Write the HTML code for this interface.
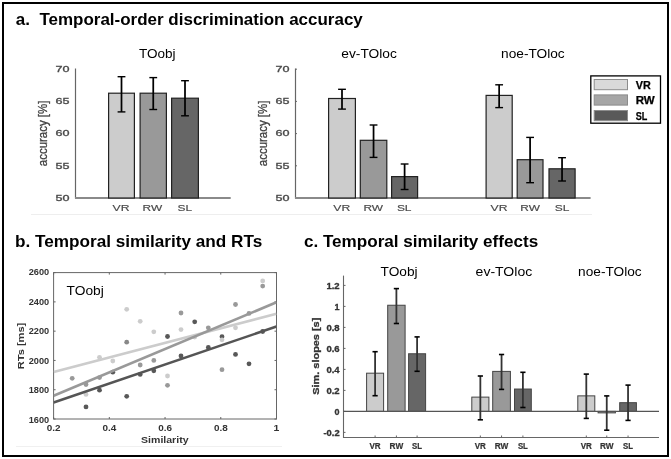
<!DOCTYPE html>
<html><head><meta charset="utf-8"><style>
html,body{margin:0;padding:0;background:#fff;}
svg{display:block;will-change:transform;}
text{font-family:"Liberation Sans", sans-serif;}
</style></head><body>
<svg width="671" height="459" viewBox="0 0 671 459">
<rect x="0" y="0" width="671" height="459" fill="#fff"/>
<rect x="3" y="3" width="665" height="453" fill="none" stroke="#000" stroke-width="2"/>
<text x="15.8" y="25" font-size="16.5" font-weight="bold" fill="#000" text-anchor="start" textLength="347" lengthAdjust="spacingAndGlyphs">a.&#160; Temporal-order discrimination accuracy</text>
<text x="15" y="247" font-size="16.5" font-weight="bold" fill="#000" text-anchor="start" textLength="247.2" lengthAdjust="spacingAndGlyphs">b. Temporal similarity and RTs</text>
<text x="303.9" y="247" font-size="16.5" font-weight="bold" fill="#000" text-anchor="start" textLength="234.3" lengthAdjust="spacingAndGlyphs">c. Temporal similarity effects</text>
<line x1="31" y1="214.5" x2="592" y2="214.5" stroke="#eeeeee" stroke-width="1"/>
<line x1="16" y1="446.5" x2="282" y2="446.5" stroke="#f0f0f0" stroke-width="1"/>
<line x1="75.5" y1="68.5" x2="75.5" y2="198.5" stroke="#666666" stroke-width="1.2"/>
<text x="69.4" y="200.8" font-size="9.3" font-weight="normal" fill="#4a4a4a" text-anchor="end" textLength="14.0" lengthAdjust="spacingAndGlyphs" stroke="#4a4a4a" stroke-width="0.35">50</text>
<text x="69.4" y="168.60000000000002" font-size="9.3" font-weight="normal" fill="#4a4a4a" text-anchor="end" textLength="14.0" lengthAdjust="spacingAndGlyphs" stroke="#4a4a4a" stroke-width="0.35">55</text>
<text x="69.4" y="136.4" font-size="9.3" font-weight="normal" fill="#4a4a4a" text-anchor="end" textLength="14.0" lengthAdjust="spacingAndGlyphs" stroke="#4a4a4a" stroke-width="0.35">60</text>
<text x="69.4" y="104.19999999999999" font-size="9.3" font-weight="normal" fill="#4a4a4a" text-anchor="end" textLength="14.0" lengthAdjust="spacingAndGlyphs" stroke="#4a4a4a" stroke-width="0.35">65</text>
<text x="69.4" y="71.99999999999999" font-size="9.3" font-weight="normal" fill="#4a4a4a" text-anchor="end" textLength="14.0" lengthAdjust="spacingAndGlyphs" stroke="#4a4a4a" stroke-width="0.35">70</text>
<line x1="75" y1="198" x2="230.7" y2="198" stroke="#8a8a8a" stroke-width="1.8"/>
<line x1="295.5" y1="68.5" x2="295.5" y2="198.5" stroke="#666666" stroke-width="1.2"/>
<text x="289.4" y="200.8" font-size="9.3" font-weight="normal" fill="#4a4a4a" text-anchor="end" textLength="14.0" lengthAdjust="spacingAndGlyphs" stroke="#4a4a4a" stroke-width="0.35">50</text>
<line x1="295.5" y1="198.0" x2="297.0" y2="198.0" stroke="#666666" stroke-width="1"/>
<text x="289.4" y="168.60000000000002" font-size="9.3" font-weight="normal" fill="#4a4a4a" text-anchor="end" textLength="14.0" lengthAdjust="spacingAndGlyphs" stroke="#4a4a4a" stroke-width="0.35">55</text>
<line x1="295.5" y1="165.8" x2="297.0" y2="165.8" stroke="#666666" stroke-width="1"/>
<text x="289.4" y="136.4" font-size="9.3" font-weight="normal" fill="#4a4a4a" text-anchor="end" textLength="14.0" lengthAdjust="spacingAndGlyphs" stroke="#4a4a4a" stroke-width="0.35">60</text>
<line x1="295.5" y1="133.6" x2="297.0" y2="133.6" stroke="#666666" stroke-width="1"/>
<text x="289.4" y="104.19999999999999" font-size="9.3" font-weight="normal" fill="#4a4a4a" text-anchor="end" textLength="14.0" lengthAdjust="spacingAndGlyphs" stroke="#4a4a4a" stroke-width="0.35">65</text>
<line x1="295.5" y1="101.39999999999999" x2="297.0" y2="101.39999999999999" stroke="#666666" stroke-width="1"/>
<text x="289.4" y="71.99999999999999" font-size="9.3" font-weight="normal" fill="#4a4a4a" text-anchor="end" textLength="14.0" lengthAdjust="spacingAndGlyphs" stroke="#4a4a4a" stroke-width="0.35">70</text>
<line x1="295.5" y1="69.19999999999999" x2="297.0" y2="69.19999999999999" stroke="#666666" stroke-width="1"/>
<line x1="295" y1="198" x2="590.6" y2="198" stroke="#8a8a8a" stroke-width="1.8"/>
<text transform="translate(47,133.4) rotate(-90)" x="0" y="0" font-size="13.6" font-weight="normal" fill="#404040" text-anchor="middle" textLength="65.5" lengthAdjust="spacingAndGlyphs" stroke="#404040" stroke-width="0.3">accuracy [%]</text>
<text transform="translate(267,133.4) rotate(-90)" x="0" y="0" font-size="13.6" font-weight="normal" fill="#404040" text-anchor="middle" textLength="65.5" lengthAdjust="spacingAndGlyphs" stroke="#404040" stroke-width="0.3">accuracy [%]</text>
<rect x="108.6" y="93.2" width="25.8" height="104.8" fill="#cccccc" stroke="#222" stroke-width="1.2"/>
<rect x="140.1" y="93.2" width="26.3" height="104.8" fill="#999999" stroke="#222" stroke-width="1.2"/>
<rect x="171.6" y="98.2" width="26.8" height="99.8" fill="#666666" stroke="#222" stroke-width="1.2"/>
<line x1="121.5" y1="76.7" x2="121.5" y2="111.9" stroke="#000" stroke-width="1.75"/>
<line x1="117.6" y1="76.7" x2="125.4" y2="76.7" stroke="#000" stroke-width="1.4"/>
<line x1="117.6" y1="111.9" x2="125.4" y2="111.9" stroke="#000" stroke-width="1.4"/>
<line x1="153.25" y1="77.60000000000001" x2="153.25" y2="109.5" stroke="#000" stroke-width="1.75"/>
<line x1="149.35" y1="77.60000000000001" x2="157.15" y2="77.60000000000001" stroke="#000" stroke-width="1.4"/>
<line x1="149.35" y1="109.5" x2="157.15" y2="109.5" stroke="#000" stroke-width="1.4"/>
<line x1="185.0" y1="80.7" x2="185.0" y2="115.80000000000001" stroke="#000" stroke-width="1.75"/>
<line x1="181.1" y1="80.7" x2="188.9" y2="80.7" stroke="#000" stroke-width="1.4"/>
<line x1="181.1" y1="115.80000000000001" x2="188.9" y2="115.80000000000001" stroke="#000" stroke-width="1.4"/>
<rect x="328.6" y="98.5" width="26.8" height="99.5" fill="#cccccc" stroke="#222" stroke-width="1.2"/>
<rect x="360.3" y="140.3" width="26.49999999999999" height="57.69999999999999" fill="#999999" stroke="#222" stroke-width="1.2"/>
<rect x="391.6" y="176.6" width="25.99999999999999" height="21.400000000000006" fill="#666666" stroke="#222" stroke-width="1.2"/>
<line x1="342.0" y1="89.30000000000001" x2="342.0" y2="109.10000000000001" stroke="#000" stroke-width="1.75"/>
<line x1="338.1" y1="89.30000000000001" x2="345.9" y2="89.30000000000001" stroke="#000" stroke-width="1.4"/>
<line x1="338.1" y1="109.10000000000001" x2="345.9" y2="109.10000000000001" stroke="#000" stroke-width="1.4"/>
<line x1="373.54999999999995" y1="125.0" x2="373.54999999999995" y2="157.4" stroke="#000" stroke-width="1.75"/>
<line x1="369.65" y1="125.0" x2="377.44999999999993" y2="125.0" stroke="#000" stroke-width="1.4"/>
<line x1="369.65" y1="157.4" x2="377.44999999999993" y2="157.4" stroke="#000" stroke-width="1.4"/>
<line x1="404.6" y1="164.0" x2="404.6" y2="189.5" stroke="#000" stroke-width="1.75"/>
<line x1="400.70000000000005" y1="164.0" x2="408.5" y2="164.0" stroke="#000" stroke-width="1.4"/>
<line x1="400.70000000000005" y1="189.5" x2="408.5" y2="189.5" stroke="#000" stroke-width="1.4"/>
<rect x="486.1" y="95.4" width="26.099999999999955" height="102.6" fill="#cccccc" stroke="#222" stroke-width="1.2"/>
<rect x="517.2" y="159.7" width="25.8" height="38.30000000000001" fill="#999999" stroke="#222" stroke-width="1.2"/>
<rect x="549.0" y="168.8" width="26.10000000000007" height="29.19999999999999" fill="#666666" stroke="#222" stroke-width="1.2"/>
<line x1="499.15" y1="84.80000000000001" x2="499.15" y2="107.60000000000001" stroke="#000" stroke-width="1.75"/>
<line x1="495.25" y1="84.80000000000001" x2="503.04999999999995" y2="84.80000000000001" stroke="#000" stroke-width="1.4"/>
<line x1="495.25" y1="107.60000000000001" x2="503.04999999999995" y2="107.60000000000001" stroke="#000" stroke-width="1.4"/>
<line x1="530.1" y1="137.4" x2="530.1" y2="182.70000000000002" stroke="#000" stroke-width="1.75"/>
<line x1="526.2" y1="137.4" x2="534.0" y2="137.4" stroke="#000" stroke-width="1.4"/>
<line x1="526.2" y1="182.70000000000002" x2="534.0" y2="182.70000000000002" stroke="#000" stroke-width="1.4"/>
<line x1="562.05" y1="157.70000000000002" x2="562.05" y2="181.0" stroke="#000" stroke-width="1.75"/>
<line x1="558.15" y1="157.70000000000002" x2="565.9499999999999" y2="157.70000000000002" stroke="#000" stroke-width="1.4"/>
<line x1="558.15" y1="181.0" x2="565.9499999999999" y2="181.0" stroke="#000" stroke-width="1.4"/>
<text x="121.1" y="210.5" font-size="8.6" font-weight="normal" fill="#4a4a4a" text-anchor="middle" textLength="17" lengthAdjust="spacingAndGlyphs" stroke="#4a4a4a" stroke-width="0.15">VR</text>
<text x="152.4" y="210.5" font-size="8.6" font-weight="normal" fill="#4a4a4a" text-anchor="middle" textLength="19.6" lengthAdjust="spacingAndGlyphs" stroke="#4a4a4a" stroke-width="0.15">RW</text>
<text x="184.8" y="210.5" font-size="8.6" font-weight="normal" fill="#4a4a4a" text-anchor="middle" textLength="14.6" lengthAdjust="spacingAndGlyphs" stroke="#4a4a4a" stroke-width="0.15">SL</text>
<text x="341.8" y="210.5" font-size="8.6" font-weight="normal" fill="#4a4a4a" text-anchor="middle" textLength="17" lengthAdjust="spacingAndGlyphs" stroke="#4a4a4a" stroke-width="0.15">VR</text>
<text x="373.3" y="210.5" font-size="8.6" font-weight="normal" fill="#4a4a4a" text-anchor="middle" textLength="19.6" lengthAdjust="spacingAndGlyphs" stroke="#4a4a4a" stroke-width="0.15">RW</text>
<text x="404.2" y="210.5" font-size="8.6" font-weight="normal" fill="#4a4a4a" text-anchor="middle" textLength="14.6" lengthAdjust="spacingAndGlyphs" stroke="#4a4a4a" stroke-width="0.15">SL</text>
<text x="499" y="210.5" font-size="8.6" font-weight="normal" fill="#4a4a4a" text-anchor="middle" textLength="17" lengthAdjust="spacingAndGlyphs" stroke="#4a4a4a" stroke-width="0.15">VR</text>
<text x="530.1" y="210.5" font-size="8.6" font-weight="normal" fill="#4a4a4a" text-anchor="middle" textLength="19.6" lengthAdjust="spacingAndGlyphs" stroke="#4a4a4a" stroke-width="0.15">RW</text>
<text x="562" y="210.5" font-size="8.6" font-weight="normal" fill="#4a4a4a" text-anchor="middle" textLength="14.6" lengthAdjust="spacingAndGlyphs" stroke="#4a4a4a" stroke-width="0.15">SL</text>
<text x="139" y="58" font-size="13.6" font-weight="normal" fill="#000" text-anchor="start" textLength="36.6" lengthAdjust="spacingAndGlyphs">TOobj</text>
<text x="341.3" y="58" font-size="13.6" font-weight="normal" fill="#000" text-anchor="start" textLength="55.6" lengthAdjust="spacingAndGlyphs">ev-TOloc</text>
<text x="501.1" y="58" font-size="13.6" font-weight="normal" fill="#000" text-anchor="start" textLength="63.6" lengthAdjust="spacingAndGlyphs">noe-TOloc</text>
<rect x="590.8" y="75.9" width="69.7" height="47.3" fill="#fff" stroke="#000" stroke-width="1.3"/>
<rect x="594.2" y="79.5" width="33.3" height="10.2" fill="#d9d9d9" stroke="#8c8c8c" stroke-width="1"/>
<text x="635.7" y="88.9" font-size="11" font-weight="bold" fill="#000" text-anchor="start" textLength="15" lengthAdjust="spacingAndGlyphs" stroke="#000" stroke-width="0.25">VR</text>
<rect x="594.2" y="94.9" width="33.3" height="10.2" fill="#a6a6a6" stroke="#8c8c8c" stroke-width="1"/>
<text x="635.7" y="104.30000000000001" font-size="11" font-weight="bold" fill="#000" text-anchor="start" textLength="19" lengthAdjust="spacingAndGlyphs" stroke="#000" stroke-width="0.25">RW</text>
<rect x="594.2" y="110.5" width="33.3" height="10.2" fill="#595959" stroke="#8c8c8c" stroke-width="1"/>
<text x="635.7" y="119.9" font-size="11" font-weight="bold" fill="#000" text-anchor="start" textLength="11.6" lengthAdjust="spacingAndGlyphs" stroke="#000" stroke-width="0.25">SL</text>
<rect x="53.6" y="272.6" width="222.9" height="146.39999999999998" fill="#fff" stroke="#666" stroke-width="1"/>
<text x="49.2" y="422.6" font-size="8.5" font-weight="bold" fill="#333" text-anchor="end" textLength="20.5" lengthAdjust="spacingAndGlyphs">1600</text>
<line x1="53.6" y1="419.0" x2="55.6" y2="419.0" stroke="#666" stroke-width="1"/>
<line x1="276.5" y1="419.0" x2="274.5" y2="419.0" stroke="#666" stroke-width="1"/>
<text x="49.2" y="393.14" font-size="8.5" font-weight="bold" fill="#333" text-anchor="end" textLength="20.5" lengthAdjust="spacingAndGlyphs">1800</text>
<line x1="53.6" y1="389.72" x2="55.6" y2="389.72" stroke="#666" stroke-width="1"/>
<line x1="276.5" y1="389.72" x2="274.5" y2="389.72" stroke="#666" stroke-width="1"/>
<text x="49.2" y="363.68" font-size="8.5" font-weight="bold" fill="#333" text-anchor="end" textLength="20.5" lengthAdjust="spacingAndGlyphs">2000</text>
<line x1="53.6" y1="360.44" x2="55.6" y2="360.44" stroke="#666" stroke-width="1"/>
<line x1="276.5" y1="360.44" x2="274.5" y2="360.44" stroke="#666" stroke-width="1"/>
<text x="49.2" y="334.22" font-size="8.5" font-weight="bold" fill="#333" text-anchor="end" textLength="20.5" lengthAdjust="spacingAndGlyphs">2200</text>
<line x1="53.6" y1="331.16" x2="55.6" y2="331.16" stroke="#666" stroke-width="1"/>
<line x1="276.5" y1="331.16" x2="274.5" y2="331.16" stroke="#666" stroke-width="1"/>
<text x="49.2" y="304.76" font-size="8.5" font-weight="bold" fill="#333" text-anchor="end" textLength="20.5" lengthAdjust="spacingAndGlyphs">2400</text>
<line x1="53.6" y1="301.88" x2="55.6" y2="301.88" stroke="#666" stroke-width="1"/>
<line x1="276.5" y1="301.88" x2="274.5" y2="301.88" stroke="#666" stroke-width="1"/>
<text x="49.2" y="275.3" font-size="8.5" font-weight="bold" fill="#333" text-anchor="end" textLength="20.5" lengthAdjust="spacingAndGlyphs">2600</text>
<line x1="53.6" y1="272.6" x2="55.6" y2="272.6" stroke="#666" stroke-width="1"/>
<line x1="276.5" y1="272.6" x2="274.5" y2="272.6" stroke="#666" stroke-width="1"/>
<text x="53.6" y="431" font-size="8.5" font-weight="bold" fill="#333" text-anchor="middle" textLength="13.8" lengthAdjust="spacingAndGlyphs">0.2</text>
<line x1="53.6" y1="419" x2="53.6" y2="417" stroke="#666" stroke-width="1"/>
<line x1="53.6" y1="272.6" x2="53.6" y2="274.6" stroke="#666" stroke-width="1"/>
<text x="109.325" y="431" font-size="8.5" font-weight="bold" fill="#333" text-anchor="middle" textLength="13.8" lengthAdjust="spacingAndGlyphs">0.4</text>
<line x1="109.325" y1="419" x2="109.325" y2="417" stroke="#666" stroke-width="1"/>
<line x1="109.325" y1="272.6" x2="109.325" y2="274.6" stroke="#666" stroke-width="1"/>
<text x="165.04999999999998" y="431" font-size="8.5" font-weight="bold" fill="#333" text-anchor="middle" textLength="13.8" lengthAdjust="spacingAndGlyphs">0.6</text>
<line x1="165.04999999999998" y1="419" x2="165.04999999999998" y2="417" stroke="#666" stroke-width="1"/>
<line x1="165.04999999999998" y1="272.6" x2="165.04999999999998" y2="274.6" stroke="#666" stroke-width="1"/>
<text x="220.77500000000003" y="431" font-size="8.5" font-weight="bold" fill="#333" text-anchor="middle" textLength="13.8" lengthAdjust="spacingAndGlyphs">0.8</text>
<line x1="220.77500000000003" y1="419" x2="220.77500000000003" y2="417" stroke="#666" stroke-width="1"/>
<line x1="220.77500000000003" y1="272.6" x2="220.77500000000003" y2="274.6" stroke="#666" stroke-width="1"/>
<text x="276.5" y="431" font-size="8.5" font-weight="bold" fill="#333" text-anchor="middle" textLength="5.8" lengthAdjust="spacingAndGlyphs">1</text>
<line x1="276.5" y1="419" x2="276.5" y2="417" stroke="#666" stroke-width="1"/>
<line x1="276.5" y1="272.6" x2="276.5" y2="274.6" stroke="#666" stroke-width="1"/>
<text x="164.8" y="443.2" font-size="9.2" font-weight="bold" fill="#333" text-anchor="middle" textLength="47.5" lengthAdjust="spacingAndGlyphs">Similarity</text>
<text transform="translate(23.9,346) rotate(-90)" x="0" y="0" font-size="9.4" font-weight="bold" fill="#333" text-anchor="middle" textLength="46.5" lengthAdjust="spacingAndGlyphs">RTs [ms]</text>
<text x="66.6" y="295.2" font-size="13.6" font-weight="normal" fill="#000" text-anchor="start" textLength="37.2" lengthAdjust="spacingAndGlyphs">TOobj</text>
<clipPath id="cb"><rect x="53.6" y="272.6" width="222.9" height="146.39999999999998"/></clipPath>
<g clip-path="url(#cb)">
<circle cx="72.2" cy="378.3" r="2.4" fill="#999999"/>
<circle cx="86" cy="384.5" r="2.4" fill="#999999"/>
<circle cx="86" cy="394.4" r="2.4" fill="#cccccc"/>
<circle cx="86" cy="406.9" r="2.4" fill="#585858"/>
<circle cx="99.5" cy="357.3" r="2.4" fill="#cccccc"/>
<circle cx="99.5" cy="377.6" r="2.4" fill="#999999"/>
<circle cx="99.5" cy="390.2" r="2.4" fill="#585858"/>
<circle cx="112.8" cy="361" r="2.4" fill="#cccccc"/>
<circle cx="112.8" cy="372.2" r="2.4" fill="#585858"/>
<circle cx="126.7" cy="309.3" r="2.4" fill="#cccccc"/>
<circle cx="126.7" cy="342.2" r="2.4" fill="#888888"/>
<circle cx="126.7" cy="396.3" r="2.4" fill="#585858"/>
<circle cx="140.2" cy="321.3" r="2.4" fill="#cccccc"/>
<circle cx="140.2" cy="365" r="2.4" fill="#999999"/>
<circle cx="140.2" cy="374.4" r="2.4" fill="#585858"/>
<circle cx="153.8" cy="331.8" r="2.4" fill="#cccccc"/>
<circle cx="153.8" cy="360.4" r="2.4" fill="#999999"/>
<circle cx="153.8" cy="370.8" r="2.4" fill="#585858"/>
<circle cx="167.5" cy="336.5" r="2.4" fill="#585858"/>
<circle cx="167.5" cy="376" r="2.4" fill="#cccccc"/>
<circle cx="167.5" cy="385.3" r="2.4" fill="#999999"/>
<circle cx="181" cy="313" r="2.4" fill="#999999"/>
<circle cx="181" cy="329.6" r="2.4" fill="#cccccc"/>
<circle cx="181" cy="356" r="2.4" fill="#585858"/>
<circle cx="194.7" cy="321.8" r="2.4" fill="#585858"/>
<circle cx="194.7" cy="337" r="2.4" fill="#cccccc"/>
<circle cx="208.3" cy="327.8" r="2.4" fill="#999999"/>
<circle cx="208.3" cy="347.5" r="2.4" fill="#585858"/>
<circle cx="222" cy="336.7" r="2.4" fill="#585858"/>
<circle cx="222" cy="339.8" r="2.4" fill="#cccccc"/>
<circle cx="222" cy="369.7" r="2.4" fill="#999999"/>
<circle cx="235.5" cy="304.5" r="2.4" fill="#999999"/>
<circle cx="235.5" cy="327.8" r="2.4" fill="#cccccc"/>
<circle cx="235.5" cy="354.4" r="2.4" fill="#585858"/>
<circle cx="249" cy="313.4" r="2.4" fill="#999999"/>
<circle cx="249" cy="363.8" r="2.4" fill="#585858"/>
<circle cx="262.7" cy="280.9" r="2.4" fill="#cccccc"/>
<circle cx="262.7" cy="286.1" r="2.4" fill="#999999"/>
<circle cx="262.7" cy="331.5" r="2.4" fill="#585858"/>
<line x1="53.6" y1="371.9" x2="276.5" y2="313.8" stroke="#cccccc" stroke-width="2.6"/>
<line x1="53.6" y1="395.8" x2="276.5" y2="302.3" stroke="#999999" stroke-width="2.6"/>
<line x1="53.6" y1="402.6" x2="276.5" y2="326.5" stroke="#555555" stroke-width="2.6"/>
</g>
<line x1="343.5" y1="275.6" x2="343.5" y2="438" stroke="#666" stroke-width="1.1"/>
<text x="339.6" y="288.7" font-size="8.6" font-weight="bold" fill="#333" text-anchor="end" textLength="13.2" lengthAdjust="spacingAndGlyphs" stroke="#333" stroke-width="0.3">1.2</text>
<line x1="343.5" y1="285.4" x2="345.5" y2="285.4" stroke="#666" stroke-width="1"/>
<text x="339.6" y="309.7" font-size="8.6" font-weight="bold" fill="#333" text-anchor="end" textLength="5" lengthAdjust="spacingAndGlyphs" stroke="#333" stroke-width="0.3">1</text>
<line x1="343.5" y1="306.4" x2="345.5" y2="306.4" stroke="#666" stroke-width="1"/>
<text x="339.6" y="330.7" font-size="8.6" font-weight="bold" fill="#333" text-anchor="end" textLength="13.2" lengthAdjust="spacingAndGlyphs" stroke="#333" stroke-width="0.3">0.8</text>
<line x1="343.5" y1="327.4" x2="345.5" y2="327.4" stroke="#666" stroke-width="1"/>
<text x="339.6" y="351.7" font-size="8.6" font-weight="bold" fill="#333" text-anchor="end" textLength="13.2" lengthAdjust="spacingAndGlyphs" stroke="#333" stroke-width="0.3">0.6</text>
<line x1="343.5" y1="348.4" x2="345.5" y2="348.4" stroke="#666" stroke-width="1"/>
<text x="339.6" y="372.7" font-size="8.6" font-weight="bold" fill="#333" text-anchor="end" textLength="13.2" lengthAdjust="spacingAndGlyphs" stroke="#333" stroke-width="0.3">0.4</text>
<line x1="343.5" y1="369.4" x2="345.5" y2="369.4" stroke="#666" stroke-width="1"/>
<text x="339.6" y="393.7" font-size="8.6" font-weight="bold" fill="#333" text-anchor="end" textLength="13.2" lengthAdjust="spacingAndGlyphs" stroke="#333" stroke-width="0.3">0.2</text>
<line x1="343.5" y1="390.4" x2="345.5" y2="390.4" stroke="#666" stroke-width="1"/>
<text x="339.6" y="414.7" font-size="8.6" font-weight="bold" fill="#333" text-anchor="end" textLength="5" lengthAdjust="spacingAndGlyphs" stroke="#333" stroke-width="0.3">0</text>
<line x1="343.5" y1="411.4" x2="345.5" y2="411.4" stroke="#666" stroke-width="1"/>
<text x="339.6" y="435.7" font-size="8.6" font-weight="bold" fill="#333" text-anchor="end" textLength="16.1" lengthAdjust="spacingAndGlyphs" stroke="#333" stroke-width="0.3">-0.2</text>
<line x1="343.5" y1="432.4" x2="345.5" y2="432.4" stroke="#666" stroke-width="1"/>
<line x1="343.5" y1="437.5" x2="659" y2="437.5" stroke="#666" stroke-width="1.1"/>
<text transform="translate(319,356.2) rotate(-90)" x="0" y="0" font-size="9.6" font-weight="bold" fill="#333" text-anchor="middle" textLength="77" lengthAdjust="spacingAndGlyphs" stroke="#333" stroke-width="0.3">Sim. slopes [s]</text>
<text x="380.6" y="276" font-size="13.6" font-weight="normal" fill="#000" text-anchor="start" textLength="37" lengthAdjust="spacingAndGlyphs">TOobj</text>
<text x="475.6" y="275.8" font-size="13.6" font-weight="normal" fill="#000" text-anchor="start" textLength="56.6" lengthAdjust="spacingAndGlyphs">ev-TOloc</text>
<text x="578.1" y="275.6" font-size="13.6" font-weight="normal" fill="#000" text-anchor="start" textLength="63.5" lengthAdjust="spacingAndGlyphs">noe-TOloc</text>
<rect x="366.6" y="373.17999999999995" width="17.0" height="38.22000000000003" fill="#cccccc" stroke="#444" stroke-width="1"/>
<rect x="387.7" y="305.245" width="17.400000000000034" height="106.15499999999997" fill="#999999" stroke="#444" stroke-width="1"/>
<rect x="408.6" y="353.755" width="17.0" height="57.64499999999998" fill="#666666" stroke="#444" stroke-width="1"/>
<rect x="471.8" y="397.12" width="17.099999999999966" height="14.279999999999973" fill="#cccccc" stroke="#444" stroke-width="1"/>
<rect x="492.7" y="371.395" width="17.69999999999999" height="40.004999999999995" fill="#999999" stroke="#444" stroke-width="1"/>
<rect x="514.5" y="389.03499999999997" width="16.799999999999955" height="22.36500000000001" fill="#666666" stroke="#444" stroke-width="1"/>
<rect x="577.8" y="395.85999999999996" width="17.0" height="15.54000000000002" fill="#cccccc" stroke="#444" stroke-width="1"/>
<rect x="598.1" y="411.4" width="17.299999999999955" height="1.4700000000000273" fill="#999999" stroke="#444" stroke-width="1"/>
<rect x="619.7" y="402.685" width="16.699999999999932" height="8.714999999999975" fill="#666666" stroke="#444" stroke-width="1"/>
<line x1="343.5" y1="411.4" x2="659" y2="411.4" stroke="#555" stroke-width="1.1"/>
<line x1="375.1" y1="351.7" x2="375.1" y2="395.7" stroke="#333" stroke-width="1.8"/>
<line x1="372.5" y1="351.7" x2="377.70000000000005" y2="351.7" stroke="#000" stroke-width="1.6"/>
<line x1="372.5" y1="395.7" x2="377.70000000000005" y2="395.7" stroke="#000" stroke-width="1.6"/>
<line x1="396.4" y1="288.6" x2="396.4" y2="323.5" stroke="#333" stroke-width="1.8"/>
<line x1="393.79999999999995" y1="288.6" x2="399.0" y2="288.6" stroke="#000" stroke-width="1.6"/>
<line x1="393.79999999999995" y1="323.5" x2="399.0" y2="323.5" stroke="#000" stroke-width="1.6"/>
<line x1="417.1" y1="336.9" x2="417.1" y2="371.3" stroke="#333" stroke-width="1.8"/>
<line x1="414.5" y1="336.9" x2="419.70000000000005" y2="336.9" stroke="#000" stroke-width="1.6"/>
<line x1="414.5" y1="371.3" x2="419.70000000000005" y2="371.3" stroke="#000" stroke-width="1.6"/>
<line x1="480.35" y1="376" x2="480.35" y2="419.8" stroke="#333" stroke-width="1.8"/>
<line x1="477.75" y1="376" x2="482.95000000000005" y2="376" stroke="#000" stroke-width="1.6"/>
<line x1="477.75" y1="419.8" x2="482.95000000000005" y2="419.8" stroke="#000" stroke-width="1.6"/>
<line x1="501.54999999999995" y1="354.5" x2="501.54999999999995" y2="389.4" stroke="#333" stroke-width="1.8"/>
<line x1="498.94999999999993" y1="354.5" x2="504.15" y2="354.5" stroke="#000" stroke-width="1.6"/>
<line x1="498.94999999999993" y1="389.4" x2="504.15" y2="389.4" stroke="#000" stroke-width="1.6"/>
<line x1="522.9" y1="372.3" x2="522.9" y2="407.5" stroke="#333" stroke-width="1.8"/>
<line x1="520.3" y1="372.3" x2="525.5" y2="372.3" stroke="#000" stroke-width="1.6"/>
<line x1="520.3" y1="407.5" x2="525.5" y2="407.5" stroke="#000" stroke-width="1.6"/>
<line x1="586.3" y1="374.1" x2="586.3" y2="418.4" stroke="#333" stroke-width="1.8"/>
<line x1="583.6999999999999" y1="374.1" x2="588.9" y2="374.1" stroke="#000" stroke-width="1.6"/>
<line x1="583.6999999999999" y1="418.4" x2="588.9" y2="418.4" stroke="#000" stroke-width="1.6"/>
<line x1="606.75" y1="395.9" x2="606.75" y2="430.2" stroke="#333" stroke-width="1.8"/>
<line x1="604.15" y1="395.9" x2="609.35" y2="395.9" stroke="#000" stroke-width="1.6"/>
<line x1="604.15" y1="430.2" x2="609.35" y2="430.2" stroke="#000" stroke-width="1.6"/>
<line x1="628.05" y1="385.1" x2="628.05" y2="420.4" stroke="#333" stroke-width="1.8"/>
<line x1="625.4499999999999" y1="385.1" x2="630.65" y2="385.1" stroke="#000" stroke-width="1.6"/>
<line x1="625.4499999999999" y1="420.4" x2="630.65" y2="420.4" stroke="#000" stroke-width="1.6"/>
<line x1="375.1" y1="437.5" x2="375.1" y2="435.5" stroke="#666" stroke-width="1"/>
<text x="375.1" y="449" font-size="8.6" font-weight="bold" fill="#333" text-anchor="middle" textLength="11.2" lengthAdjust="spacingAndGlyphs" stroke="#333" stroke-width="0.2">VR</text>
<line x1="396.4" y1="437.5" x2="396.4" y2="435.5" stroke="#666" stroke-width="1"/>
<text x="396.4" y="449" font-size="8.6" font-weight="bold" fill="#333" text-anchor="middle" textLength="13.6" lengthAdjust="spacingAndGlyphs" stroke="#333" stroke-width="0.2">RW</text>
<line x1="417.1" y1="437.5" x2="417.1" y2="435.5" stroke="#666" stroke-width="1"/>
<text x="417.1" y="449" font-size="8.6" font-weight="bold" fill="#333" text-anchor="middle" textLength="10" lengthAdjust="spacingAndGlyphs" stroke="#333" stroke-width="0.2">SL</text>
<line x1="480.35" y1="437.5" x2="480.35" y2="435.5" stroke="#666" stroke-width="1"/>
<text x="480.35" y="449" font-size="8.6" font-weight="bold" fill="#333" text-anchor="middle" textLength="11.2" lengthAdjust="spacingAndGlyphs" stroke="#333" stroke-width="0.2">VR</text>
<line x1="501.54999999999995" y1="437.5" x2="501.54999999999995" y2="435.5" stroke="#666" stroke-width="1"/>
<text x="501.54999999999995" y="449" font-size="8.6" font-weight="bold" fill="#333" text-anchor="middle" textLength="13.6" lengthAdjust="spacingAndGlyphs" stroke="#333" stroke-width="0.2">RW</text>
<line x1="522.9" y1="437.5" x2="522.9" y2="435.5" stroke="#666" stroke-width="1"/>
<text x="522.9" y="449" font-size="8.6" font-weight="bold" fill="#333" text-anchor="middle" textLength="10" lengthAdjust="spacingAndGlyphs" stroke="#333" stroke-width="0.2">SL</text>
<line x1="586.3" y1="437.5" x2="586.3" y2="435.5" stroke="#666" stroke-width="1"/>
<text x="586.3" y="449" font-size="8.6" font-weight="bold" fill="#333" text-anchor="middle" textLength="11.2" lengthAdjust="spacingAndGlyphs" stroke="#333" stroke-width="0.2">VR</text>
<line x1="606.75" y1="437.5" x2="606.75" y2="435.5" stroke="#666" stroke-width="1"/>
<text x="606.75" y="449" font-size="8.6" font-weight="bold" fill="#333" text-anchor="middle" textLength="13.6" lengthAdjust="spacingAndGlyphs" stroke="#333" stroke-width="0.2">RW</text>
<line x1="628.05" y1="437.5" x2="628.05" y2="435.5" stroke="#666" stroke-width="1"/>
<text x="628.05" y="449" font-size="8.6" font-weight="bold" fill="#333" text-anchor="middle" textLength="10" lengthAdjust="spacingAndGlyphs" stroke="#333" stroke-width="0.2">SL</text>
</svg>
</body></html>
